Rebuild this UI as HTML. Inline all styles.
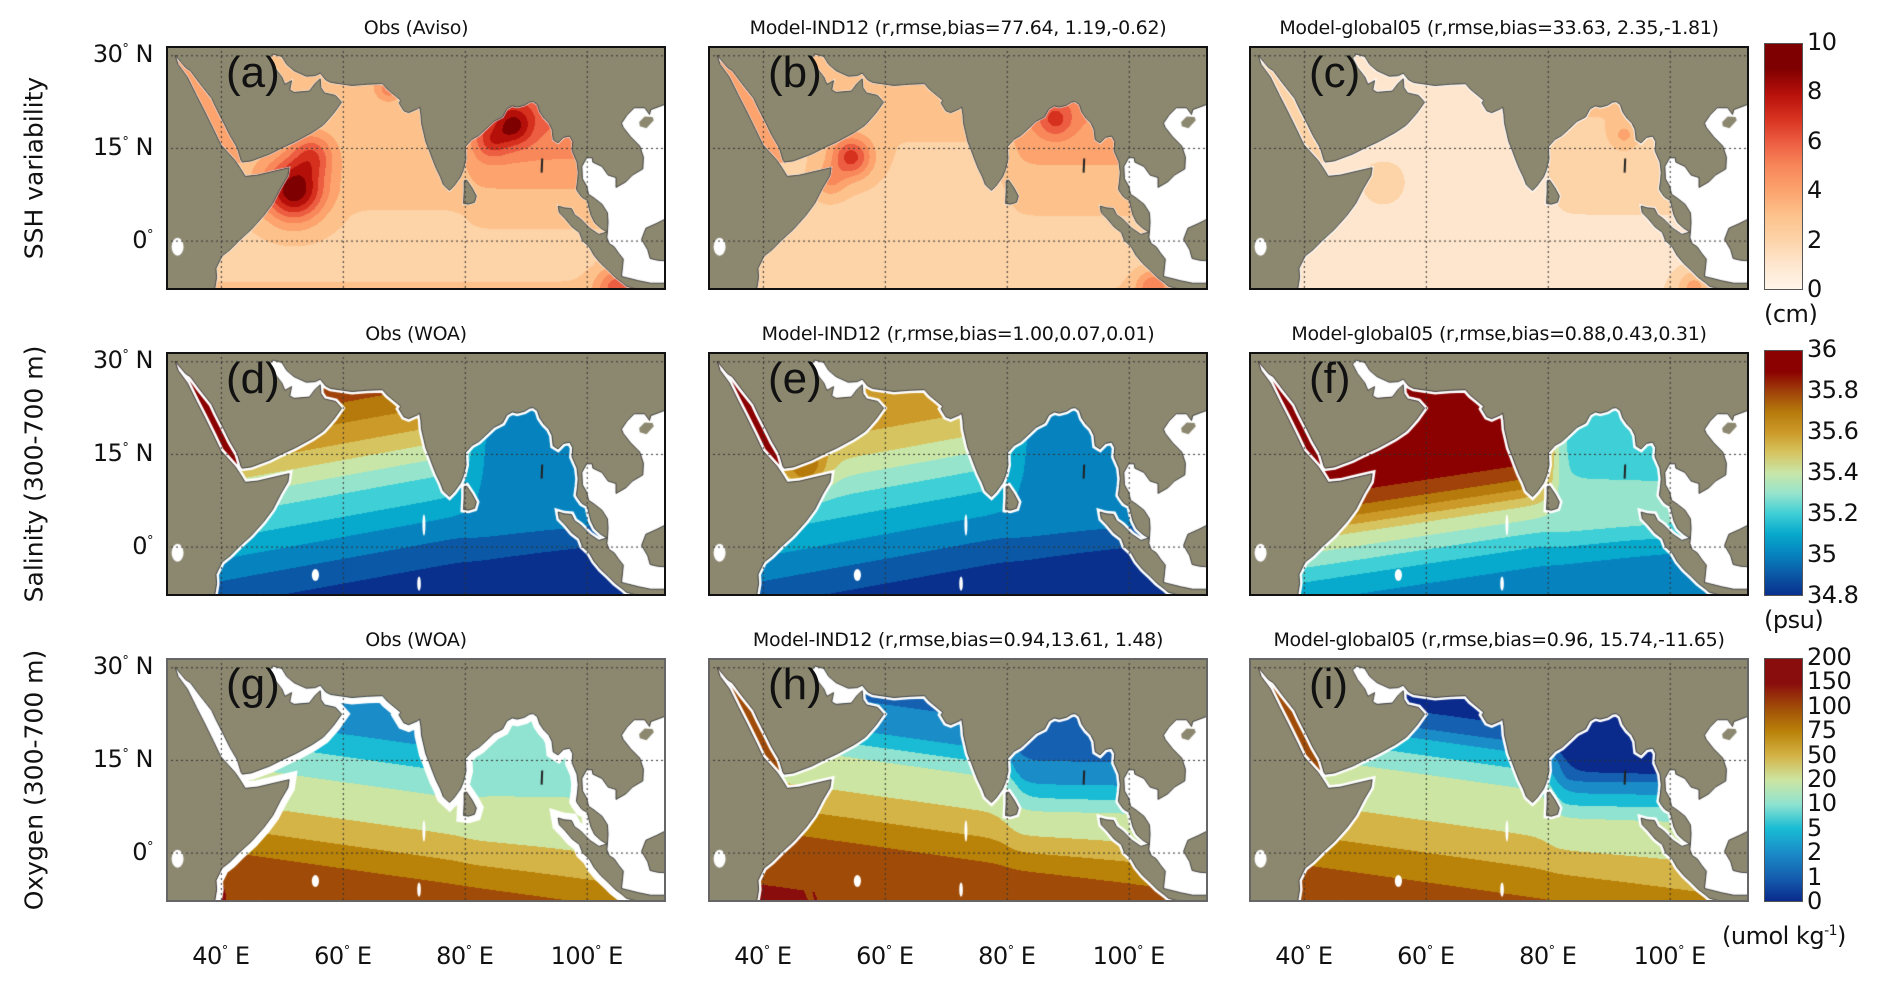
<!DOCTYPE html>
<html><head><meta charset="utf-8">
<style>
html,body{margin:0;padding:0;background:#fff;}
#fig{position:relative;width:1892px;height:986px;overflow:hidden;font-family:"DejaVu Sans","Liberation Sans",sans-serif;color:#111;}
.t{position:absolute;white-space:nowrap;}
.title{font-size:19px;transform:translateX(-50%);letter-spacing:-0.3px;}
.ylab{font-size:25px;transform:translate(-50%,-50%) rotate(-90deg);}
.tick{font-size:24px;letter-spacing:-0.5px;}
.letter{font-size:44px;font-family:"Liberation Sans",sans-serif;}
canvas{position:absolute;}
.frame{position:absolute;border:2px solid #111;box-sizing:border-box;pointer-events:none;}
.cb{position:absolute;border:1px solid #555;box-sizing:border-box;}
</style></head>
<body>
<div id="fig"></div>
<script>
// ===== data =====
const LATK = [-8,-4,0,4,8,12,16,20,24,28];
// SSH variability (cm)
const sshObsArab = [3.2,2.6,2.8,2.9,3.3,3.4,3.3,3.1,3.6,3.8];
const sshObsBay  = [3.2,3.0,3.1,3.4,4.0,4.8,5.6,6.2,6.5,6.5];
const sshObsBlobs = [[52,8,3.5,6.5],[55,14,2.5,3],[88,18.5,2.2,3.5],[84.5,16,1.8,2],[67.5,24.5,1.3,2],[105,-7.5,2.5,3.5]];
const sshInd12Arab = [3.0,2.6,2.7,2.7,2.8,2.9,3.0,3.0,3.3,3.5];
const sshInd12Bay  = [3.0,2.9,3.0,3.2,3.5,4.0,4.5,5.0,5.5,5.5];
const sshInd12Blobs = [[54.5,13.5,2.4,4.5],[51,9.5,1.8,2],[88,19.5,2,2.5],[104,-7.5,2,3]];
const sshG05Arab = [1.9,1.7,1.6,1.5,1.6,1.7,1.6,1.6,1.7,1.8];
const sshG05Bay  = [2.0,2.0,2.1,2.3,2.4,2.5,2.7,3.0,3.4,3.6];
const sshG05Blobs = [[53,9,2.5,1],[104,-7.5,2,2.5],[92.5,17,1.5,1.5]];
// Salinity 300-700 m (psu)
const salObsArab = [34.85,34.95,35.05,35.18,35.28,35.42,35.58,35.7,35.82,35.9];
const salObsBay  = [34.85,34.95,35.02,35.05,35.07,35.08,35.08,35.08,35.09,35.09];
const salInd12Arab = [34.85,34.95,35.05,35.15,35.25,35.38,35.52,35.62,35.66,35.68];
const salInd12Bay  = [34.85,34.95,35.02,35.05,35.07,35.08,35.08,35.08,35.08,35.08];
const salG05Arab = [35.05,35.15,35.32,35.5,35.78,35.95,36.0,36.0,35.95,35.88];
const salG05Bay  = [35.05,35.15,35.3,35.36,35.32,35.27,35.25,35.25,35.22,35.2];
// Oxygen 300-700 m (umol/kg)
const oxyObsArab = [135,110,82,60,32,18,9,4,4,8];
const oxyObsBay  = [100,72,55,35,22,16,12,12,12,12];
const oxyInd12Arab = [150,128,105,80,55,35,12,3,2,2];
const oxyInd12Bay  = [85,62,40,25,9,3,1.5,1.5,1.5,1.5];
const oxyG05Arab = [120,95,75,55,38,22,9,2,0.5,0.5];
const oxyG05Bay  = [60,45,30,20,6,1,0.5,0.5,0.5,0.5];
// colour scales
const sshLevels = [0,1,2,3,4,5,6,7,8,9,10];
const sshColors = ['#fff5eb','#fee6ce','#fdd3a8','#fdc28c','#fca36e','#f8875a','#ec5d41','#d6301f','#b50f0a','#7f0000'];
const sshTicks = ['0','2','4','6','8','10'];
const salLevels = [34.8,34.9,35.0,35.1,35.2,35.3,35.4,35.5,35.6,35.7,35.8,35.9,36.0];
const salColors = ['#08308c','#0b58a6','#0683bf','#07a9cc','#3fcfd6','#97e4cc','#c8e6a8','#d6c460','#cc9a28','#b57a0b','#a0420a','#8b0000'];
const salTicks = ['34.8','35','35.2','35.4','35.6','35.8','36'];
const oxyLevels = [0,1,2,5,10,20,50,75,100,150,200];
const oxyColors = ['#0a2a8c','#1560b0','#1a8cc8','#19bcd4','#8fe3d0','#cde5a2','#d4b347','#b98208','#a04c08','#8a0d0d'];
const oxyTicks = ['0','1','2','5','10','20','50','75','100','150','200'];
const lonTicks = [40,60,80,100];
const latTicks = [30,15,0];

// ===== geometry =====
const LON0=31, LON1=113, LAT0=-8, LAT1=31.5;
const PW=500, PH=244;
const colX=[166,708,1249], rowY=[46,352,658];
const LAND='#8c8870';
const ocean=[[38.8,-9],[39.3,-6],[39.2,-4.5],[40.2,-2.5],[41.5,-1.5],[43,0],[45,1.8],[47,4],[48.5,6],[49.8,8.5],[51,10.5],[51.2,11.8],[49,11.3],[46,10.6],[44,10.4],[43.2,11.7],[42.3,13],[40,15.5],[38.8,18],[37.3,21],[36,23.5],[34.5,26.5],[33,28.5],[32.5,30],[34.2,28],[35,27.5],[36.5,25.5],[38.5,23],[39.2,21.5],[40.5,19],[41.5,17],[42.7,15],[43.3,13],[43.5,12.7],[45,12.9],[48,14],[50,15],[52.2,16],[55,17.5],[56.8,18.7],[57.8,19.8],[58.5,20.6],[59.8,22.4],[58.8,23.5],[57,23.9],[56.4,24.8],[56.3,26.2],[55.5,25.5],[54.5,24.2],[52,24],[51.3,24.4],[51.6,25.9],[50.5,25.3],[50,26.5],[48.8,28],[48,29.5],[48.5,30.2],[50,29.8],[50.8,28.5],[52,27.5],[54,26.6],[55.5,26.7],[56.3,27.1],[57.2,26],[58,25.6],[61.5,25.1],[64,25.3],[66.5,25.4],[67.3,24.5],[68.4,23.6],[69.5,22.7],[69.2,22.3],[70,21],[70.8,20.7],[72.2,21.3],[72.6,21.6],[72.8,20.4],[72.9,19],[73.3,17.3],[73.6,16],[74.1,14.8],[74.7,13.2],[75.3,11.7],[76,10.3],[76.5,9],[77.5,8.1],[78.2,8.8],[79.3,10.3],[79.8,11.5],[80.2,13.2],[80.1,15.2],[81.2,16.4],[82.3,17],[83.4,18],[84.8,19.3],[86.2,20],[86.9,21.3],[87.8,21.8],[88.6,21.6],[89.8,21.9],[90.6,22.4],[91.2,22.5],[91.9,22],[92.3,20.8],[93,19.8],[93.8,19],[94.3,18],[94.5,16.3],[95.3,15.8],[96.2,16.7],[97.2,16.9],[97.7,16],[97.6,14.5],[98.4,12.7],[98.6,11],[98.5,9.8],[98.3,8.3],[98.6,7.8],[99.2,7],[100.1,6.5],[100.4,5.2],[100.7,4.1],[101.3,2.9],[102.3,2],[103.3,1.4],[102,1],[100.5,2],[99,3.5],[98,4.2],[97.5,5.2],[96.3,5.3],[95.3,5.6],[95.5,4.5],[96.5,3.5],[97.6,2.2],[98.8,1.3],[99.3,0],[100.4,-1],[101.2,-2.4],[102.3,-3.7],[103.6,-4.9],[104.6,-5.9],[105.8,-6.8],[106.5,-7.4],[108,-7.8],[110,-8.2],[112,-8.4],[113.5,-8.5],[113.5,-9.5],[30,-9.5]];
const whiteSea=[[103.4,1.4],[103.5,3],[103.4,4.5],[102.5,5.9],[101.2,6.9],[100.3,7.5],[100,8.8],[99.3,10],[99.2,12],[100,13.4],[100.9,13.4],[101,12.7],[102.5,12],[103.5,10.6],[104.8,10.2],[104.8,8.6],[106.4,9.5],[107.5,10.6],[109.2,11.6],[109.3,13.5],[108.7,15.3],[107.2,16.8],[106,18.3],[105.7,19],[106.6,20.3],[107.8,21.5],[109.5,21.5],[110.3,20.4],[110.5,21.2],[113.5,22.3],[113.5,3.8],[111.5,2.8],[109.7,2],[109,0.2],[110,-1.5],[110.4,-2.9],[111.7,-3.2],[113.5,-3.3],[113.5,-6.8],[112.5,-6.9],[110.5,-6.9],[108.5,-6.5],[106.5,-6],[105.7,-5.8],[105.9,-4],[106,-3],[105.2,-2],[104.5,-1],[103.7,-0.5],[103.3,0.5]];
const sriLanka=[[79.8,6],[79.9,8],[79.9,9.7],[80.3,9.8],[81.2,8.5],[81.9,7.2],[81.6,6.2],[80.6,5.9]];
const hainan=[[108.6,19.2],[109.5,20.1],[110.8,20],[111,19.5],[109.8,18.2],[108.7,18.5]];

const fig=document.getElementById('fig');
function X(lon){return (lon-LON0)/(LON1-LON0)*PW;}
function Y(lat){return (LAT1-lat)/(LAT1-LAT0)*PH;}
function prof(arr,lat){let t=(lat-LATK[0])/4;if(t<=0)return arr[0];if(t>=arr.length-1)return arr[arr.length-1];const i=Math.floor(t),f=t-i;return arr[i]*(1-f)+arr[i+1]*f;}
function sig(z){return 1/(1+Math.exp(-z));}
function colorOf(v,levels,colors){for(let i=0;i<colors.length;i++){if(v<levels[i+1])return colors[i];}return colors[colors.length-1];}
function hex(c){return [parseInt(c.substr(1,2),16),parseInt(c.substr(3,2),16),parseInt(c.substr(5,2),16)];}
function pathPoly(ctx,pts){ctx.beginPath();pts.forEach((p,i)=>{const x=X(p[0]),y=Y(p[1]);i?ctx.lineTo(x,y):ctx.moveTo(x,y);});ctx.closePath();}

const panels=[
 {id:'a',r:0,c:0,title:'Obs (Aviso)',arab:sshObsArab,bay:sshObsBay,blobs:sshObsBlobs,red:4.5,pers:3.5,tilt:0,lev:sshLevels,col:sshColors,rim:1},
 {id:'b',r:0,c:1,title:'Model-IND12 (r,rmse,bias=77.64, 1.19,-0.62)',arab:sshInd12Arab,bay:sshInd12Bay,blobs:sshInd12Blobs,red:4.2,pers:3.2,tilt:0,lev:sshLevels,col:sshColors,rim:1},
 {id:'c',r:0,c:2,title:'Model-global05 (r,rmse,bias=33.63, 2.35,-1.81)',arab:sshG05Arab,bay:sshG05Bay,blobs:sshG05Blobs,red:2.2,pers:1.8,tilt:0,lev:sshLevels,col:sshColors,rim:1.5},
 {id:'d',r:1,c:0,title:'Obs (WOA)',arab:salObsArab,bay:salObsBay,blobs:[],red:36,pers:null,tilt:0.18,lev:salLevels,col:salColors,rim:3},
 {id:'e',r:1,c:1,title:'Model-IND12 (r,rmse,bias=1.00,0.07,0.01)',arab:salInd12Arab,bay:salInd12Bay,blobs:[[47,12.5,2.5,0.3]],red:36,pers:null,tilt:0.18,lev:salLevels,col:salColors,rim:3},
 {id:'f',r:1,c:2,title:'Model-global05 (r,rmse,bias=0.88,0.43,0.31)',arab:salG05Arab,bay:salG05Bay,blobs:[],red:36,pers:null,tilt:0.15,lev:salLevels,col:salColors,rim:3},
 {id:'g',r:2,c:0,title:'Obs (WOA)',arab:oxyObsArab,bay:oxyObsBay,blobs:[[35,-7.5,3.5,60]],red:null,pers:null,tilt:-0.14,lev:oxyLevels,col:oxyColors,rim:7},
 {id:'h',r:2,c:1,title:'Model-IND12 (r,rmse,bias=0.94,13.61, 1.48)',arab:oxyInd12Arab,bay:oxyInd12Bay,blobs:[],red:120,pers:null,tilt:-0.14,lev:oxyLevels,col:oxyColors,rim:3},
 {id:'i',r:2,c:2,title:'Model-global05 (r,rmse,bias=0.96, 15.74,-11.65)',arab:oxyG05Arab,bay:oxyG05Bay,blobs:[],red:120,pers:null,tilt:-0.14,lev:oxyLevels,col:oxyColors,rim:3}
];

function field(p,lon,lat){
 if(lon<43.7&&lat>12.6) return p.red;
 if(lon>47.5&&lon<56.5&&lat>24.2) return p.pers;
 const a=prof(p.arab,lat-p.tilt*(lon-60));
 const b=prof(p.bay,lat);
 const w=sig((lon-80.5)/1.0)*sig((lat-3)/2.5);
 let v=a*(1-w)+b*w;
 for(const bl of p.blobs){const dx=lon-bl[0],dy=lat-bl[1];v+=bl[3]*Math.exp(-(dx*dx+dy*dy)/(2*bl[2]*bl[2]));}
 return v;
}

function addText(txt,x,y,cls,name,html){const d=document.createElement('div');d.className='t '+cls;d.style.left=x+'px';d.style.top=y+'px';if(html)d.innerHTML=txt;else d.textContent=txt;


fig.appendChild(d);return d;}

panels.forEach(p=>{
 const x0=colX[p.c],y0=rowY[p.r];
 const cv=document.createElement('canvas');cv.width=PW;cv.height=PH;cv.style.left=x0+'px';cv.style.top=y0+'px';
 
 
 fig.appendChild(cv);
 const ctx=cv.getContext('2d');
 const off=document.createElement('canvas');off.width=PW;off.height=PH;const octx=off.getContext('2d');
 const img=octx.createImageData(PW,PH);const cache={};
 for(let y=0;y<PH;y++)for(let x=0;x<PW;x++){
  const lon=LON0+(x+0.5)/PW*(LON1-LON0),lat=LAT1-(y+0.5)/PH*(LAT1-LAT0);
  const v=field(p,lon,lat);let rgb;
  if(v===null)rgb=[255,255,255];else{const c=colorOf(v,p.lev,p.col);rgb=cache[c]||(cache[c]=hex(c));}
  const k=(y*PW+x)*4;img.data[k]=rgb[0];img.data[k+1]=rgb[1];img.data[k+2]=rgb[2];img.data[k+3]=255;
 }
 octx.putImageData(img,0,0);
 ctx.fillStyle=LAND;ctx.fillRect(0,0,PW,PH);
 ctx.save();pathPoly(ctx,ocean);ctx.clip();ctx.drawImage(off,0,0);
 ctx.strokeStyle='#fff';ctx.lineWidth=p.rim*2;pathPoly(ctx,ocean);ctx.stroke();
 pathPoly(ctx,sriLanka);ctx.stroke();
 if(p.r>0){ctx.fillStyle='#fff';[[46.3,-9,0.7,1.3],[55.5,-4.6,0.6,1.0],[72.5,-6,0.3,1.2],[73.3,3.5,0.25,1.8]].forEach(e=>{ctx.beginPath();ctx.ellipse(X(e[0]),Y(e[1]),e[2]*6,e[3]*6,0,0,Math.PI*2);ctx.fill();});}
 ctx.restore();
 ctx.fillStyle='#fff';pathPoly(ctx,whiteSea);ctx.fill();
 ctx.beginPath();ctx.ellipse(X(32.9),Y(-1),6,9,0,0,Math.PI*2);ctx.fill();
 ctx.fillStyle=LAND;pathPoly(ctx,sriLanka);ctx.fill();pathPoly(ctx,hainan);ctx.fill();
 ctx.strokeStyle='#222';ctx.lineWidth=0.8;pathPoly(ctx,ocean);ctx.stroke();pathPoly(ctx,whiteSea);ctx.stroke();pathPoly(ctx,sriLanka);ctx.stroke();
 ctx.lineWidth=2;ctx.beginPath();ctx.moveTo(X(92.7),Y(13.3));ctx.lineTo(X(92.6),Y(11));ctx.stroke();
 // grid
 ctx.strokeStyle='#333';ctx.lineWidth=1;ctx.setLineDash([2,3]);
 lonTicks.forEach(l=>{ctx.beginPath();ctx.moveTo(X(l)+0.5,0);ctx.lineTo(X(l)+0.5,PH);ctx.stroke();});
 latTicks.forEach(l=>{ctx.beginPath();ctx.moveTo(0,Y(l)+0.5);ctx.lineTo(PW,Y(l)+0.5);ctx.stroke();});
 ctx.setLineDash([]);
 const fr=document.createElement('div');fr.className='frame';fr.style.left=x0+'px';fr.style.top=y0+'px';fr.style.width=PW+'px';fr.style.height=PH+'px';
 if(p.r===2)fr.style.borderColor='#666';
 
 
 fig.appendChild(fr);
 addText(p.title,x0+PW/2,y0-29,'title','panel-title-'+p.id);
 addText('('+p.id+')',x0+60,y0+2,'letter','panel-letter-'+p.id);
 if(p.c===0){latTicks.forEach(l=>{const d=addText(l===0?'0<sup style="font-size:13px">°</sup>':l+'<sup style="font-size:13px">°</sup> N',0,y0+Y(l)-15,'tick','lat-tick-'+l,true);d.style.left='';d.style.right=(1892-153)+'px';});}
});
// row labels
addText('SSH variability',34,rowY[0]+PH/2,'ylab','row-label-ssh');
addText('Salinity (300-700 m)',34,rowY[1]+PH/2,'ylab','row-label-salinity');
addText('Oxygen (300-700 m)',34,rowY[2]+PH/2,'ylab','row-label-oxygen');
// x ticks
colX.forEach((cx,ci)=>{lonTicks.forEach(l=>{const d=addText(l+'<sup style="font-size:13px">°</sup> E',cx+X(l),942,'tick','lon-tick-'+ci+'-'+l,true);d.style.transform='translateX(-50%)';});});
// colorbars
const cbs=[{y:rowY[0]-3,h:PH+3,col:sshColors,ticks:sshTicks,unit:'(cm)',uy:300,ux:1764,n:'ssh'},
 {y:rowY[1]-2,h:PH+2,col:salColors,ticks:salTicks,unit:'(psu)',uy:606,ux:1764,n:'salinity'},
 {y:rowY[2],h:PH,col:oxyColors,ticks:oxyTicks,unit:'(umol kg<sup style="font-size:14px">-1</sup>)',uy:922,ux:1722,n:'oxygen'}];
cbs.forEach(cb=>{
 const d=document.createElement('div');d.className='cb';d.style.left='1764px';d.style.top=cb.y+'px';d.style.width='39px';d.style.height=cb.h+'px';
 const n=cb.col.length;const stops=[];cb.col.forEach((c,i)=>{const a=100-(i/n*100),b=100-((i+1)/n*100);stops.push(c+' '+b+'%',c+' '+a+'%');});
 d.style.background='linear-gradient(to bottom,'+stops.reverse().join(',')+')';
 
 
 fig.appendChild(d);
 cb.ticks.forEach((t,i)=>{addText(t,1807,cb.y+cb.h-(i/(cb.ticks.length-1))*cb.h-15,'tick','colorbar-tick-'+cb.n+'-'+t);});
 addText(cb.unit,cb.ux,cb.uy,'tick','colorbar-unit-'+cb.n,true);
});
</script>
</body></html>
